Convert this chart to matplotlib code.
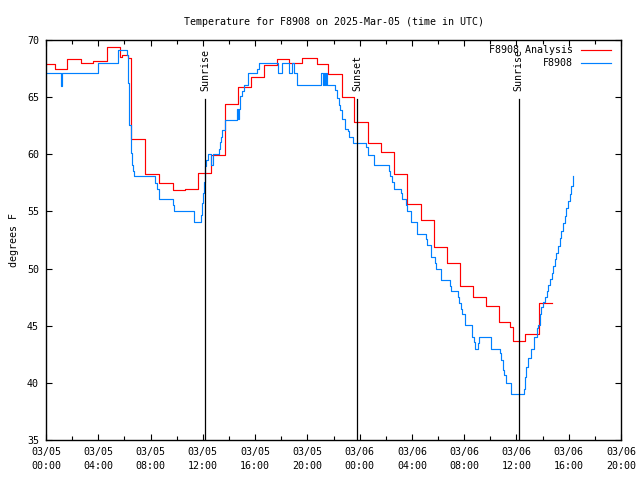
import matplotlib
matplotlib.use("Agg")
import matplotlib.pyplot as plt
import matplotlib.dates as mdates
from datetime import datetime, timedelta

# ---- data (hours after 2025-03-05 00:00 UTC, degrees F) ----
red_hours = [0, 0.7, 1.6, 2.66, 3.6, 4.67, 5.67, 5.82, 6.3, 6.54, 7.6, 8.66, 9.7, 10.6,
             11.6, 12.6, 13.66, 14.72, 15.7, 16.7, 17.7, 18.6, 19.6, 20.7, 21.6, 22.65,
             23.6, 24.65, 25.6, 26.6, 27.6, 28.7, 29.7, 30.7, 31.7, 32.65, 33.7, 34.65,
             35.5, 35.7, 36.65, 37.7, 38.7]
red_temps = [67.9, 67.5, 68.3, 68.0, 68.2, 69.4, 68.5, 68.7, 68.4, 61.3, 58.3, 57.5, 56.9, 57.0,
             58.4, 59.9, 64.4, 65.9, 66.8, 67.8, 68.3, 68.0, 68.4, 67.9, 67.0, 65.0,
             62.8, 61.0, 60.2, 58.3, 55.65, 54.25, 51.9, 50.5, 48.5, 47.5, 46.7, 45.3,
             44.9, 43.7, 44.3, 47.0, 47.0]

blue_hours = [0, 1.13, 1.2, 4.0, 5.54, 6.23, 6.31, 6.38, 6.49, 6.57, 6.64, 6.72, 8.35, 8.53,
              8.68, 9.75, 9.83, 11.29, 11.36, 11.88, 11.95, 12.03, 12.11, 12.18, 12.26, 12.39,
              12.65, 12.8, 13.2, 13.33, 13.39, 13.46, 13.72, 14.61, 14.7, 14.78, 14.87, 15.0,
              15.12, 15.43, 16.15, 16.27, 17.72, 18.06, 18.57, 18.83, 19.0, 19.21, 21.07,
              21.2, 21.28, 21.36, 21.43, 21.52, 22.15, 22.28, 22.4, 22.53, 22.66, 22.9,
              23.09, 23.17, 23.5, 24.52, 24.62, 25.08, 26.22, 26.36, 26.48, 26.6, 27.18,
              27.26, 27.51, 27.59, 27.9, 28.41, 29.04, 29.12, 29.43, 29.48, 29.76, 29.81,
              30.19, 30.25, 30.88, 30.96, 31.52, 31.59, 31.72, 31.8, 32.03, 32.62, 32.74,
              32.82, 33.05, 33.13, 34.08, 34.74, 34.84, 34.97, 35.04, 35.17, 35.56, 36.58,
              36.65, 36.76, 36.91, 37.09, 37.34, 37.55, 37.65, 37.78, 37.91, 38.06, 38.19,
              38.31, 38.44, 38.56, 38.69, 38.81, 38.94, 39.06, 39.19, 39.31, 39.44, 39.56,
              39.69, 39.81, 39.94, 40.06, 40.19, 40.31, 40.36]
blue_temps = [67.1, 66.0, 67.1, 68.0, 69.1, 68.7, 66.2, 62.6, 60.1, 59.1, 58.5, 58.1, 57.5, 57.0,
              56.1, 55.6, 55.0, 54.55, 54.05, 54.7, 55.7, 56.6, 57.6, 59.0, 59.5, 60.0,
              59.1, 60.0, 60.5, 61.1, 61.5, 62.1, 63.0, 64.0, 63.1, 64.0, 65.1, 65.5,
              66.1, 67.1, 67.5, 68.0, 67.1, 68.0, 67.1, 68.0, 67.1, 66.1, 67.1,
              66.1, 67.1, 66.1, 67.1, 66.1, 65.6, 64.9, 64.3, 63.9, 63.1, 62.2,
              62.0, 61.5, 61.0, 60.6, 59.9, 59.06, 58.5, 58.1, 57.6, 57.0, 56.6,
              56.05, 55.55, 55.06, 54.05, 53.0, 52.56, 52.06, 51.5, 51.04, 50.5, 50.0,
              49.5, 49.0, 48.5, 48.0, 47.5, 47.0, 46.5, 46.0, 45.06, 44.05, 43.6,
              43.0, 43.5, 44.0, 43.0, 42.6, 42.0, 41.1, 40.7, 40.0, 39.0, 39.5,
              40.5, 41.4, 42.15, 42.96, 44.04, 44.8, 45.06, 46.0, 46.66, 47.05, 47.5,
              48.0, 48.6, 49.1, 49.6, 50.2, 50.8, 51.4, 52.0, 52.7, 53.3, 54.0,
              54.6, 55.3, 55.9, 56.5, 57.2, 57.8, 58.1]

sun_labels = ["Sunrise", "Sunset", "Sunrise"]
sun_hours = [12.18, 23.83, 36.17]

y_ticks = [35, 40, 45, 50, 55, 60, 65, 70]

base = datetime(2025, 3, 5)
def to_dt(hours):
    return [base + timedelta(hours=h) for h in hours]

plt.rcParams['font.family'] = ['DejaVu Sans Mono']
FS = 7.2

fig = plt.figure(figsize=(6.4, 4.8), dpi=100)
ax = fig.add_axes([46/640, 40/480, 575/640, 400/480])

ax.plot(to_dt(red_hours), red_temps, drawstyle='steps-post', color='#ff0000', lw=0.85,
        label='F8908 Analysis')
ax.plot(to_dt(blue_hours), blue_temps, drawstyle='steps-post', color='#0080ff', lw=0.85,
        label='F8908')

for lab, h in zip(sun_labels, sun_hours):
    t = base + timedelta(hours=h)
    ax.plot([t, t], [35, 64.85], color='black', lw=0.9)
    ax.text(t, 65.5, lab, rotation=90, ha='center', va='bottom', fontsize=FS)

ax.set_xlim(base, base + timedelta(hours=44))
ax.set_ylim(35, 70)
ax.set_yticks(y_ticks)
ax.xaxis.set_major_locator(mdates.HourLocator(byhour=range(0, 24, 4)))
ax.xaxis.set_major_formatter(mdates.DateFormatter('%m/%d\n%H:%M'))
ax.xaxis.set_minor_locator(mdates.HourLocator(byhour=range(2, 24, 4)))

ax.tick_params(axis='both', which='both', direction='in', top=True, right=True,
               labelsize=FS, width=0.8)
ax.tick_params(axis='both', which='major', length=4.5)
ax.tick_params(axis='x', which='minor', length=3)
ax.tick_params(axis='x', which='major', pad=5)
ax.tick_params(axis='y', which='major', pad=5)
for lbl in ax.get_xticklabels():
    lbl.set_linespacing(1.5)
for s in ax.spines.values():
    s.set_linewidth(1.0)

ax.set_ylabel('degrees F', fontsize=FS, labelpad=6)
ax.set_title('Temperature for F8908 on 2025-Mar-05 (time in UTC)', fontsize=FS, pad=11)

leg = ax.legend(loc='upper right', frameon=False, markerfirst=False, fontsize=FS,
                handlelength=3.0, handletextpad=0.8, labelspacing=0.3,
                borderaxespad=0.3, bbox_to_anchor=(0.995, 1.005))

fig.savefig('out.png', dpi=100)
